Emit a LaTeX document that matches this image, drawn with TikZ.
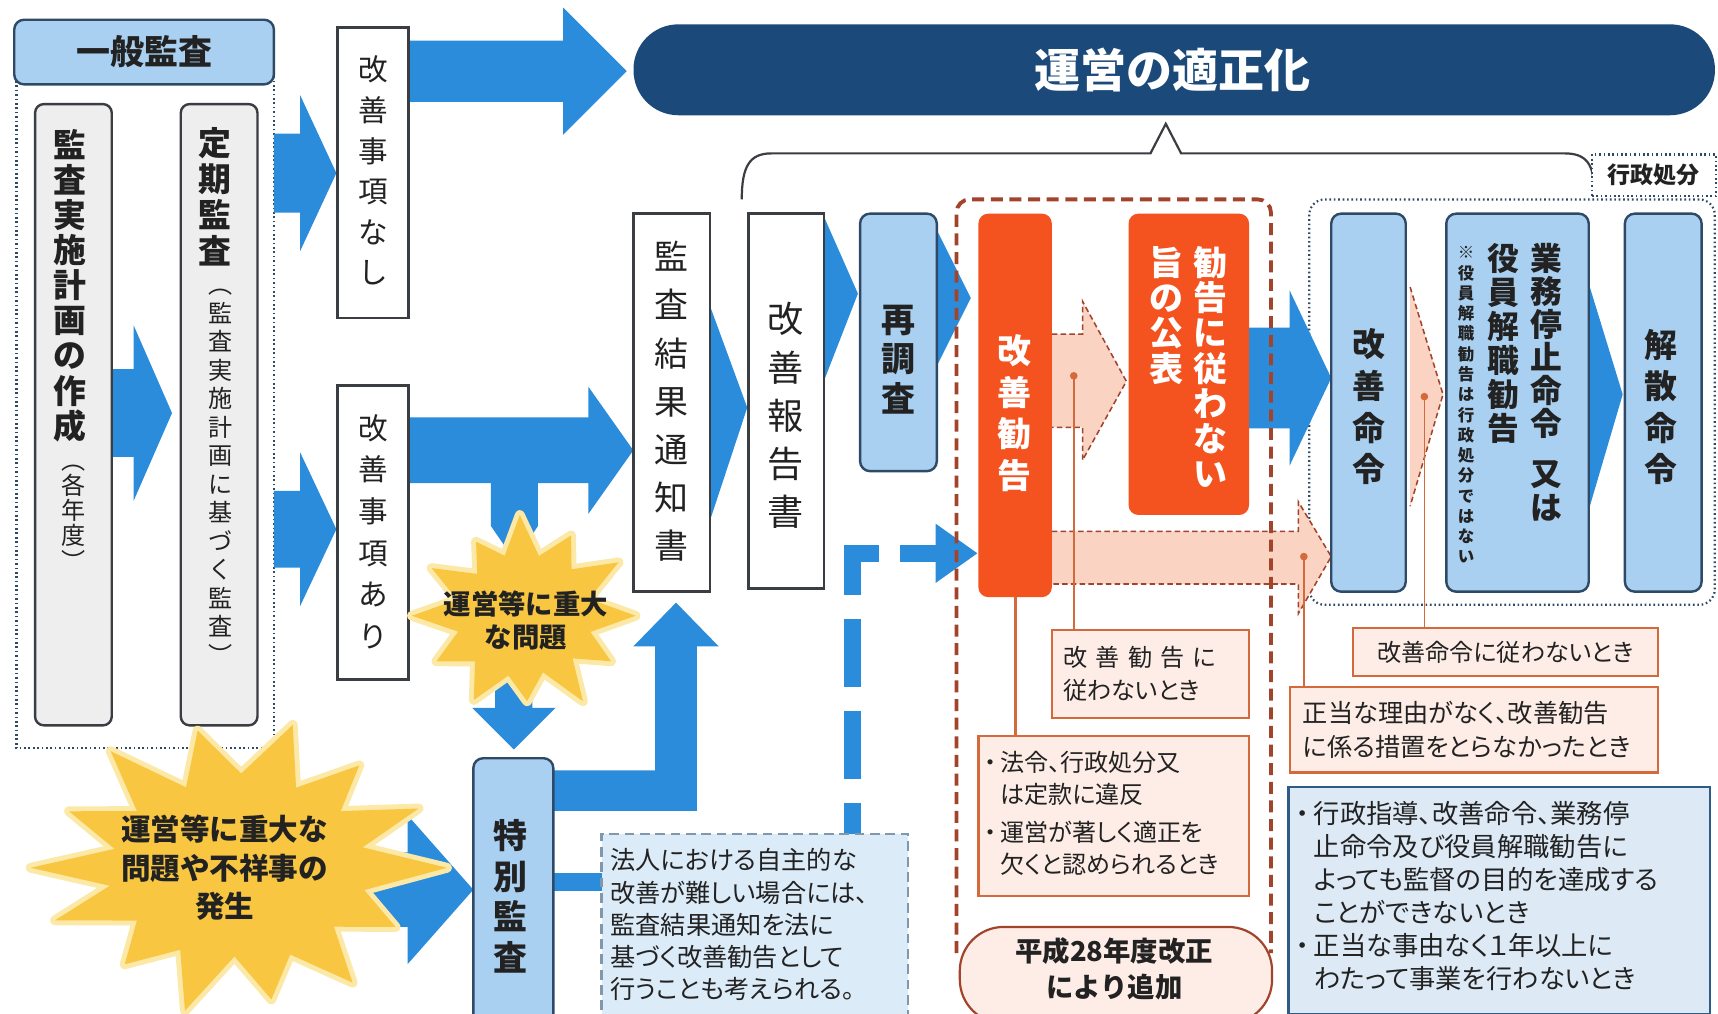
\documentclass[tikz,border=0pt]{standalone}
\usepackage{fontspec}
\setmainfont{Noto Sans CJK JP}
\newfontfamily\pj{Noto Sans CJK JP}[RawFeature=+palt]
\usetikzlibrary{calc}
\definecolor{abl}{HTML}{2A8CDB}
\definecolor{lbl}{HTML}{A9D0F1}
\definecolor{lbd}{HTML}{2E4A66}
\definecolor{bd}{HTML}{3A3D42}
\definecolor{navy}{HTML}{1B4A7A}
\definecolor{org}{HTML}{F4521E}
\definecolor{pnk}{HTML}{FAD3C3}
\definecolor{pnkl}{HTML}{FDEDE6}
\definecolor{brn}{HTML}{A2432B}
\definecolor{oline}{HTML}{D46A3C}
\definecolor{ystar}{HTML}{F8C640}
\definecolor{ystarl}{HTML}{FCE9A8}
\definecolor{notef}{HTML}{DCEBF8}
\definecolor{noted}{HTML}{7F98AE}
\definecolor{gbox}{HTML}{EEEEEE}
\definecolor{bluebox}{HTML}{DDEAF6}
\definecolor{blueline}{HTML}{2D5C86}
\definecolor{txt}{HTML}{222222}
\ExplSyntaxOn
\NewDocumentCommand\vtext{O{1.1em}m}
 {\vtop{\baselineskip=#1\lineskiplimit=-1000pt\lineskip=0pt\tl_map_inline:nn{#2}{\hbox to 1em{\hss##1\hss}}}}
\ExplSyntaxOff
\newcommand\bx[6]{\node[#2,anchor=north west,minimum width={#5-#3},minimum height={#6-#4},inner sep=0pt,outer sep=0pt] (#1) at (#3,#4) {};}
\newcommand\rarrow[6]{\fill[abl] (#1,{#4-#5}) -- (#2,{#4-#5}) -- (#2,{#4-#6}) -- (#3,#4) -- (#2,{#4+#6}) -- (#2,{#4+#5}) -- (#1,{#4+#5}) -- cycle;}
\tikzset{
  dk/.style={draw=bd,line width=2.2pt},
  gbx/.style={dk,fill=gbox,rounded corners=8pt},
  wbx/.style={dk,fill=white},
  lbx/.style={draw=lbd,line width=2.2pt,fill=lbl,rounded corners=9pt},
  obx/.style={fill=org,rounded corners=9pt},
  pkd/.style={draw=brn,line width=1.4pt,dash pattern=on 5pt off 3pt},
  lab/.style={draw=oline,line width=2pt,fill=pnkl},
  vt/.style={anchor=north,inner sep=0pt,text=txt},
  tl/.style={anchor=west,align=left,inner sep=0pt,text=txt},
  conn/.style={oline,line width=1.6pt},
  dotl/.style={draw=lbd,line width=2pt,dash pattern=on 1.5pt off 2.5pt},
  starfill/.style={fill=ystar,preaction={draw=ystarl,line width=9pt,line join=round}},
}
\begin{document}
\begin{tikzpicture}[x=1pt,y=-1pt]
\useasboundingbox (0,0) rectangle (1568,925);
\clip (0,0) rectangle (1568,925);
\fill[white] (0,0) rectangle (1568,925);

% enclosures
\draw[dotl] (15,70) rectangle (250,683);
\draw[dotl,rounded corners=14pt] (1195,182) rectangle (1565,552);
\draw[bd,line width=2pt] (677,182) .. controls (677,152) and (684,140) .. (704,140) -- (1050,140) -- (1064,113) -- (1078,140) -- (1428,140) .. controls (1448,140) and (1455,150) .. (1455,175);

% blue block arrows
\rarrow{100}{122}{157}{377}{40}{80}
\rarrow{250}{274}{307}{158}{36}{71}
\rarrow{250}{274}{307}{483}{35}{70}
\rarrow{373}{514}{572}{65}{28}{58}
\rarrow{373}{537}{578}{411}{30}{58}
\fill[abl] (448,430) -- (491,430) -- (491,480) -- (470,512) -- (448,480) -- cycle;
\fill[abl] (452,600) -- (486,600) -- (486,646) -- (507,646) -- (469,684) -- (431,646) -- (452,646) -- cycle;
\rarrow{320}{372}{432}{812}{34}{68}
\fill[abl] (500,703) -- (598,703) -- (598,590) -- (578,590) -- (617,550) -- (656,590) -- (636,590) -- (636,740) -- (500,740) -- cycle;
\fill[abl] (500,797) rectangle (550,813);
\fill[abl] (649,282) -- (682,372) -- (649,472) -- cycle;
\fill[abl] (753,200) -- (783,268) -- (753,345) -- cycle;
\fill[abl] (856,212) -- (886,272) -- (856,332) -- cycle;
\rarrow{1138}{1177}{1215}{345}{46}{80}
\fill[abl] (1451,262) -- (1481,360) -- (1451,462) -- cycle;
\draw[abl,line width=16pt,dash pattern=on 62pt off 22pt] (802,505) -- (778,505) -- (778,762);
\fill[abl] (821,497) rectangle (858,513);
\fill[abl] (854,478) -- (892,505) -- (854,532) -- cycle;

% pink arrows
\fill[pnk] (958,305) -- (988,305) -- (988,275) -- (1028,348) -- (988,420) -- (988,390) -- (958,390) -- cycle;
\draw[pkd] (960,305) -- (988,305) -- (988,275) -- (1028,348) -- (988,420) -- (988,390) -- (960,390);
\fill[pnk] (958,485) -- (1185,485) -- (1185,458) -- (1215,508) -- (1185,560) -- (1185,533) -- (958,533) -- cycle;
\draw[pkd] (960,485) -- (1185,485) -- (1185,458) -- (1215,508) -- (1185,560) -- (1185,533) -- (960,533);
\fill[pnk] (1287,262) -- (1317,360) -- (1287,462) -- cycle;
\draw[pkd] (1287,262) -- (1317,360) -- (1287,462);

% boxes
\bx{ippan}{lbx}{13}{18}{250}{77}
\bx{plan}{gbx}{32}{95}{102}{662}
\bx{teiki}{gbx}{165}{95}{235}{662}
\bx{nashi}{wbx}{308}{25}{373}{290}
\bx{ari}{wbx}{308}{352}{373}{620}
\bx{kekka}{wbx}{578}{195}{648}{540}
\bx{houkoku}{wbx}{683}{195}{752}{537}
\bx{sai}{lbx}{785}{195}{855}{430}
\bx{kankoku}{obx}{893}{195}{960}{545}
\bx{kouhyou}{obx}{1030}{195}{1140}{470}
\bx{meirei}{lbx}{1215}{195}{1283}{540}
\bx{teishi}{lbx}{1320}{195}{1450}{540}
\bx{kaisan}{lbx}{1483}{195}{1553}{540}
\bx{tokubetsu}{lbx}{432}{692}{505}{940}
\node[fill=navy,rounded corners=41pt,anchor=north west,minimum width=987,minimum height=83,inner sep=0pt] (banner) at (578,22) {};
\node[dotl,fill=white,anchor=north west,minimum width=113,minimum height=38,inner sep=0pt] (gyosei) at (1452,140) {};

% orange dashed region
\draw[brn,line width=3.5pt,dash pattern=on 11pt off 6pt,rounded corners=12pt] (873,870) -- (873,182) -- (1160,182) -- (1160,870);

% label boxes
\bx{l1}{lab}{960}{575}{1140}{655}
\bx{l2}{lab}{893}{672}{1140}{818}
\bx{l3}{lab}{1235}{573}{1513}{617}
\bx{l4}{lab}{1177}{627}{1513}{705}
\node[draw=blueline,line width=2pt,fill=bluebox,anchor=north west,minimum width=385,minimum height=208,inner sep=0pt] (l5) at (1175,717) {};
\node[draw=noted,line width=2pt,dash pattern=on 9pt off 5pt,fill=notef,anchor=north west,minimum width=280,minimum height=170,inner sep=0pt] (note) at (548,760) {};
\node[draw=brn,line width=2pt,fill=pnkl,rounded corners=40pt,anchor=north west,minimum width=285,minimum height=88,inner sep=0pt] (oval) at (875,845) {};

% thin connectors
\coordinate (d1) at (980,343);
\coordinate (d2) at (1190,508);
\coordinate (d3) at (1300,362);
\draw[conn] (d1) -- (d1 |- l1.north);
\draw[conn] (d2) -- (d2 |- l4.north);
\draw[conn] (d3) -- (d3 |- l3.north);
\draw[oline,line width=3pt] (kankoku.south) -- (kankoku.south |- l2.north);
\draw[blueline,line width=2pt] ($(kaisan.south)+(17,0)$) -- ($(kaisan.south)+(17,0)$ |- l5.north);
\foreach \d in {d1,d2,d3} \fill[oline] (\d) circle (3.5pt);

% stars
\begin{scope}[shift={(218,792)}]
\path[starfill] (0:190 and 135) -- (14:118 and 84) -- (28:162 and 115) -- (41:115 and 82) -- (55:181 and 128) -- (67:120 and 86) -- (80:171 and 122) -- (92:114 and 81) -- (105:190 and 135) -- (117:118 and 84) -- (130:162 and 115) -- (144:115 and 82) -- (158:181 and 128) -- (169:120 and 86) -- (180:190 and 135) -- (192:116 and 83) -- (205:171 and 122) -- (218:118 and 84) -- (232:190 and 135) -- (245:114 and 81) -- (258:181 and 128) -- (271:120 and 86) -- (285:190 and 135) -- (297:115 and 82) -- (310:171 and 122) -- (322:118 and 84) -- (335:181 and 128) -- (347:116 and 83) -- cycle;
\end{scope}
\begin{scope}[shift={(478,562)}]
\path[starfill] (0:102 and 92) -- (15:63 and 57) -- (30:92 and 83) -- (44:62 and 56) -- (58:102 and 92) -- (73:60 and 54) -- (88:87 and 78) -- (103:62 and 56) -- (118:97 and 87) -- (134:64 and 58) -- (150:92 and 83) -- (165:62 and 56) -- (180:102 and 92) -- (195:63 and 57) -- (210:97 and 87) -- (225:60 and 54) -- (240:87 and 78) -- (254:63 and 57) -- (268:102 and 92) -- (283:62 and 56) -- (298:92 and 83) -- (313:64 and 58) -- (328:102 and 92) -- (344:62 and 56) -- cycle;
\end{scope}

% texts
\node[text=txt,font=\bfseries\fontsize{31}{31}\selectfont] (ippan-t) at (ippan) {一般監査};
\node[text=white,font=\bfseries\fontsize{42}{42}\selectfont] (banner-t) at (1070,64) {運営の適正化};
\node[text=txt,font=\bfseries\fontsize{21}{21}\selectfont] (gyosei-t) at (gyosei) {行政処分};
\node[vt,font=\bfseries\fontsize{30}{30}\selectfont] (plan-t1) at (64,118) {\vtext[32pt]{監査実施計画の作成}};
\node[vt,font=\fontsize{22}{22}\selectfont] (plan-t2) at (67,424) {\vtext[23pt]{︵各年度︶}};
\node[vt,font=\bfseries\fontsize{30}{30}\selectfont] (teiki-t1) at (196,116) {\vtext[33pt]{定期監査}};
\node[vt,font=\fontsize{22}{22}\selectfont] (teiki-t2) at (201,264) {\vtext[26pt]{︵監査実施計画に基づく監査︶}};
\node[vt,font=\fontsize{27}{27}\selectfont] (nashi-t) at (341,51) {\vtext[37pt]{改善事項なし}};
\node[vt,font=\fontsize{27}{27}\selectfont] (ari-t) at (341,378) {\vtext[38pt]{改善事項あり}};
\node[vt,font=\fontsize{31}{31}\selectfont] (kekka-t) at (613,220) {\vtext[44pt]{監査結果通知書}};
\node[vt,font=\fontsize{33}{33}\selectfont] (houkoku-t) at (717,276) {\vtext[44pt]{改善報告書}};
\node[vt,font=\bfseries\fontsize{31}{31}\selectfont] (sai-t) at (820,278) {\vtext[36pt]{再調査}};
\node[vt,text=white,font=\bfseries\fontsize{31}{31}\selectfont] (kankoku-t) at (926,305) {\vtext[38pt]{改善勧告}};
\node[vt,text=white,font=\bfseries\fontsize{31}{31}\selectfont] (kouhyou-t) at (1085,225) {\vtext[32pt]{旨の公表}\hspace{9pt}\vtext[32pt]{勧告に従わない}};
\node[vt,font=\bfseries\fontsize{30}{30}\selectfont] (meirei-t) at (1249,300) {\vtext[38pt]{改善命令}};
\node[vt,font=\bfseries\fontsize{15}{15}\selectfont] (teishi-t3) at (1338,225) {\vtext[18.5pt]{※役員解職勧告は行政処分ではない}};
\node[vt,font=\bfseries\fontsize{29}{29}\selectfont] (teishi-t2) at (1372,222) {\vtext[31pt]{役員解職勧告}};
\node[vt,font=\bfseries\fontsize{29}{29}\selectfont] (teishi-t1) at (1411,222) {\vtext[30pt]{業務停止命令}};
\node[vt,font=\bfseries\fontsize{29}{29}\selectfont] (teishi-t1b) at (1411,420) {\vtext[31pt]{又は}};
\node[vt,font=\bfseries\fontsize{30}{30}\selectfont] (kaisan-t) at (1516,300) {\vtext[38pt]{解散命令}};
\node[vt,font=\bfseries\fontsize{31}{31}\selectfont] (tokubetsu-t) at (466,748) {\vtext[37pt]{特別監査}};
\node[text=txt,align=center,font=\bfseries\fontsize{25}{30}\selectfont] (star1-t) at (480,566) {運営等に重大\\な問題};
\node[text=txt,align=center,font=\bfseries\fontsize{27}{35}\selectfont] (star2-t) at (205,792) {運営等に重大な\\問題や不祥事の\\発生};

\node[tl,font=\pj\fontsize{22}{30}\selectfont] (l1-t) at (970,615) {\makebox[140pt][s]{改\hfill 善\hfill 勧\hfill 告\hfill に}\\従わないとき};
\node[tl,font=\pj\fontsize{22}{29}\selectfont] (l2-t) at (898,745) {\begin{tabular}{@{}l@{\,}l@{}}・&法令、行政処分又\\&は定款に違反\\[6pt]・&運営が著しく適正を\\&欠くと認められるとき\end{tabular}};
\node[text=txt,font=\pj\fontsize{22}{22}\selectfont] (l3-t) at (l3) {改善命令に従わないとき};
\node[tl,font=\pj\fontsize{23}{31}\selectfont] (l4-t) at (1189,666) {正当な理由がなく、改善勧告\\に係る措置をとらなかったとき};
\node[tl,font=\pj\fontsize{24}{30}\selectfont] (l5-t) at (1183,821) {\begin{tabular}{@{}l@{\,}l@{}}・&行政指導、改善命令、業務停\\&止命令及び役員解職勧告に\\&よっても監督の目的を達成する\\&ことができないとき\\・&正当な事由なく１年以上に\\&わたって事業を行わないとき\end{tabular}};
\node[tl,font=\pj\fontsize{23}{29.5}\selectfont] (note-t) at (557,844) {法人における自主的な\\改善が難しい場合には、\\監査結果通知を法に\\基づく改善勧告として\\行うことも考えられる。};
\node[text=txt,align=center,font=\bfseries\fontsize{25}{33}\selectfont] (oval-t) at (1017,884) {平成28年度改正\\により追加};
\end{tikzpicture}
\end{document}
